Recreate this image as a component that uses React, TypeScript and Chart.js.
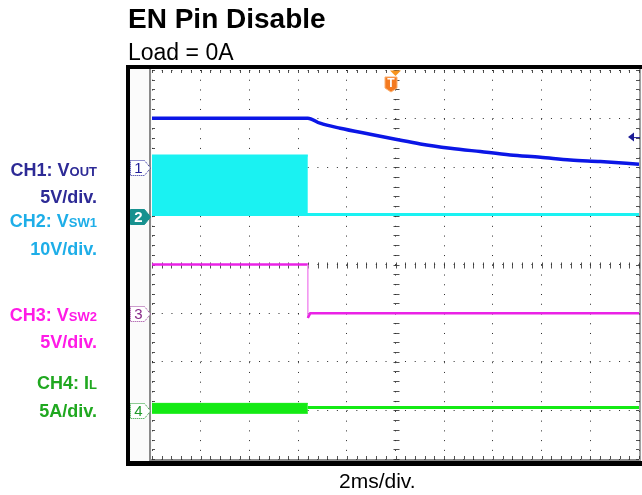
import React, { useEffect, useRef } from "react";
import { Chart, registerables } from "chart.js";

Chart.register(...registerables);

// ---- Axis definition (oscilloscope: 2 ms/div, 10 horizontal div, 8 vertical div) ----
const X_MIN_MS = -10;
const X_MAX_MS = 10;
const X_STEP_MS = 2;
const Y_MIN_DIV = 0;
const Y_MAX_DIV = 8;

// ---- Channel settings: ground-marker offset (div) and scale (units/div) ----
const CH_NAMES = ["1", "2", "3", "4"];
const CH_OFFSET_DIV = [6, 5, 3, 1];
const CH_SCALE = [5, 10, 5, 5];

// ---- Trigger ----
const TRIGGER_TIME_MS = 0;
const TRIGGER_LEVEL_V = 3.1; // on CH1

// ---- CH1: VOUT (V) ----
const CH1_TIME_MS = [-10, -3.6, -3.1, -2.27, -1.04, 0, 1.02, 2.25, 3.48, 4.71, 5.95, 7.18, 8.41, 10];
const CH1_VOUT_V = [5.05, 5.05, 4.53, 4.01, 3.39, 2.88, 2.4, 1.96, 1.61, 1.27, 1.03, 0.75, 0.58, 0.31];

// ---- CH2: VSW1 (V) ----
const CH2_BURST_TIME_MS = [-10, -3.6];
const CH2_BURST_HIGH_V = [12.4, 12.4];
const CH2_TIME_MS = [-10, -3.6, 10];
const CH2_VSW1_V = [0.3, 0.3, 0.3];

// ---- CH3: VSW2 (V) ----
const CH3_TIME_MS = [-10, -3.6, -3.6, -3.5, 10];
const CH3_VSW2_V = [5.0, 5.0, -0.5, 0.0, 0.0];

// ---- CH4: IL (A) ----
const CH4_BAND_TIME_MS = [-10, -3.6];
const CH4_BAND_HIGH_A = [0.72, 0.72];
const CH4_BAND_LOW_A = [-0.3, -0.3];
const CH4_TIME_MS = [-3.6, 10];
const CH4_IL_A = [0.3, 0.3];

const toPoints = (t: number[], v: number[], ch: number) =>
  t.map((x, i) => ({ x, y: CH_OFFSET_DIV[ch] + v[i] / CH_SCALE[ch] }));

const FONT = "'Liberation Sans', Arial, Helvetica, sans-serif";

function drawMarker(
  ctx: CanvasRenderingContext2D,
  xL: number,
  yC: number,
  label: string,
  fill: string,
  stroke: string,
  text: string,
  dotted: boolean
) {
  ctx.save();
  ctx.beginPath();
  ctx.moveTo(xL + 0.5, yC - 7.5);
  ctx.lineTo(xL + 14.5, yC - 7.5);
  ctx.lineTo(xL + 20.5, yC);
  ctx.lineTo(xL + 14.5, yC + 7.5);
  ctx.lineTo(xL + 0.5, yC + 7.5);
  ctx.closePath();
  ctx.fillStyle = fill;
  ctx.fill();
  ctx.setLineDash(dotted ? [1, 1] : []);
  ctx.strokeStyle = stroke;
  ctx.lineWidth = 1;
  ctx.stroke();
  ctx.setLineDash([]);
  ctx.fillStyle = text;
  ctx.font = `${dotted ? "" : "bold "}15px ${FONT}`;
  ctx.textAlign = "center";
  ctx.textBaseline = "middle";
  ctx.fillText(label, xL + 8.5, yC + 1);
  ctx.restore();
}

const scopePlugin = {
  id: "scopeFrame",
  beforeDraw(chart: any) {
    const { ctx, chartArea: a } = chart;
    const w = a.right - a.left;
    const h = a.bottom - a.top;
    ctx.save();
    ctx.fillStyle = "#ffffff";
    ctx.fillRect(0, 0, chart.width, chart.height);
    // black bezel
    ctx.fillStyle = "#000000";
    ctx.fillRect(a.left - 26, a.top - 5, w + 30, h + 12);
    // inner light frame
    ctx.fillStyle = "#fbfbfb";
    ctx.fillRect(a.left - 22, a.top - 1, w + 25, h + 3);
    // plot
    ctx.fillStyle = "#ffffff";
    ctx.fillRect(a.left, a.top, w, h);
    // gray edges
    ctx.fillStyle = "#8a8a8a";
    ctx.fillRect(a.left - 3, a.top - 1, 2, h + 3);
    ctx.fillRect(a.left - 3, a.bottom, w + 5, 2);
    ctx.fillStyle = "#a0a0a0";
    ctx.fillRect(a.right, a.top - 1, 2, h + 3);
    ctx.restore();
  },
  beforeDatasetsDraw(chart: any) {
    const { ctx, chartArea: a, scales } = chart;
    const xs = scales.x;
    const ys = scales.y;
    ctx.save();
    ctx.strokeStyle = "rgba(50,50,50,0.85)";
    ctx.lineWidth = 1;
    const cx = Math.round(xs.getPixelForValue(TRIGGER_TIME_MS)) + 0.5;
    const cy = Math.round(ys.getPixelForValue((Y_MIN_DIV + Y_MAX_DIV) / 2)) + 0.5;
    ctx.beginPath();
    const nx = ((X_MAX_MS - X_MIN_MS) / X_STEP_MS) * 5;
    for (let i = 0; i <= nx; i++) {
      const px = Math.round(xs.getPixelForValue(X_MIN_MS + (i * X_STEP_MS) / 5)) + 0.5;
      ctx.moveTo(px, a.top);
      ctx.lineTo(px, a.top + 3);
      ctx.moveTo(px, a.bottom - 3);
      ctx.lineTo(px, a.bottom);
      ctx.moveTo(px, cy - 3);
      ctx.lineTo(px, cy + 3);
    }
    const ny = (Y_MAX_DIV - Y_MIN_DIV) * 5;
    for (let i = 0; i <= ny; i++) {
      const py = Math.round(ys.getPixelForValue(Y_MIN_DIV + i / 5)) + 0.5;
      ctx.moveTo(a.left, py);
      ctx.lineTo(a.left + 3, py);
      ctx.moveTo(a.right - 3, py);
      ctx.lineTo(a.right, py);
      ctx.moveTo(cx - 3, py);
      ctx.lineTo(cx + 3, py);
    }
    ctx.stroke();
    ctx.restore();
  },
  afterDatasetsDraw(chart: any) {
    const { ctx, chartArea: a, scales } = chart;
    const xs = scales.x;
    const ys = scales.y;
    // channel ground markers
    const styles = [
      { fill: "#ffffff", stroke: "#22209a", text: "#22209a", dotted: true },
      { fill: "#17918f", stroke: "#17918f", text: "#ffffff", dotted: false },
      { fill: "#ffffff", stroke: "#9a3a9a", text: "#8a2a8a", dotted: true },
      { fill: "#ffffff", stroke: "#1f9a2a", text: "#1f9a2a", dotted: true },
    ];
    CH_NAMES.forEach((n, i) => {
      const y = Math.round(ys.getPixelForValue(CH_OFFSET_DIV[i])) + 1;
      const s = styles[i];
      drawMarker(ctx, a.left - 22, y, n, s.fill, s.stroke, s.text, s.dotted);
    });
    // trigger position marker (T)
    const tx = xs.getPixelForValue(TRIGGER_TIME_MS);
    ctx.save();
    ctx.fillStyle = "#f7941d";
    ctx.beginPath();
    ctx.moveTo(tx - 5.5, a.top + 0.5);
    ctx.lineTo(tx + 5.5, a.top + 0.5);
    ctx.lineTo(tx, a.top + 6);
    ctx.closePath();
    ctx.fill();
    const sx = tx - 10.5;
    const sy = a.top + 7;
    ctx.beginPath();
    ctx.moveTo(sx, sy);
    ctx.lineTo(sx + 12, sy);
    ctx.lineTo(sx + 12, sy + 11);
    ctx.lineTo(sx + 6, sy + 15);
    ctx.lineTo(sx, sy + 11);
    ctx.closePath();
    ctx.fillStyle = "#f47a20";
    ctx.fill();
    ctx.strokeStyle = "#fbb070";
    ctx.lineWidth = 1;
    ctx.stroke();
    ctx.fillStyle = "#ffffff";
    ctx.font = `bold 12px ${FONT}`;
    ctx.textAlign = "center";
    ctx.textBaseline = "middle";
    ctx.fillText("T", sx + 6, sy + 6.5);
    // trigger level arrow (CH1)
    const ly = ys.getPixelForValue(CH_OFFSET_DIV[0] + TRIGGER_LEVEL_V / CH_SCALE[0]);
    ctx.fillStyle = "#1c1c96";
    ctx.beginPath();
    ctx.moveTo(a.right - 11, ly);
    ctx.lineTo(a.right - 5, ly - 4.5);
    ctx.lineTo(a.right - 5, ly + 4.5);
    ctx.closePath();
    ctx.fill();
    ctx.strokeStyle = "#1c1c96";
    ctx.beginPath();
    ctx.moveTo(a.right - 6, ly + 0.5);
    ctx.lineTo(a.right + 1, ly + 0.5);
    ctx.stroke();
    ctx.restore();
  },
};

export default function App() {
  const ref = useRef<HTMLCanvasElement | null>(null);

  useEffect(() => {
    if (!ref.current) return;
    const gridColor = "rgba(30,30,30,0.95)";
    const chart = new Chart(ref.current, {
      type: "line",
      data: {
        datasets: [
          {
            label: "CH1 VOUT",
            data: toPoints(CH1_TIME_MS, CH1_VOUT_V, 0),
            borderColor: "#0b16e6",
            borderWidth: 3.5,
            pointRadius: 0,
            fill: false,
            cubicInterpolationMode: "monotone",
          },
          {
            label: "CH2 VSW1 burst",
            data: toPoints(CH2_BURST_TIME_MS, CH2_BURST_HIGH_V, 1),
            borderColor: "#1af2f2",
            backgroundColor: "#1af2f2",
            borderWidth: 2,
            pointRadius: 0,
            fill: { value: CH_OFFSET_DIV[1] + CH2_VSW1_V[0] / CH_SCALE[1] },
          },
          {
            label: "CH2 VSW1",
            data: toPoints(CH2_TIME_MS, CH2_VSW1_V, 1),
            borderColor: "#1af2f2",
            borderWidth: 3,
            pointRadius: 0,
            fill: false,
          },
          {
            label: "CH3 VSW2",
            data: toPoints(CH3_TIME_MS, CH3_VSW2_V, 2),
            borderColor: "#ea22e6",
            borderWidth: 2.5,
            pointRadius: 0,
            fill: false,
            segment: {
              borderColor: (c: any) => (c.p0DataIndex === 1 ? "#f290f0" : "#ea22e6"),
              borderWidth: (c: any) => (c.p0DataIndex === 1 ? 1.5 : 2.5),
            },
          },
          {
            label: "CH4 IL band high",
            data: toPoints(CH4_BAND_TIME_MS, CH4_BAND_HIGH_A, 3),
            borderColor: "#14ea14",
            backgroundColor: "#14ea14",
            borderWidth: 1,
            pointRadius: 0,
            fill: "+1",
          },
          {
            label: "CH4 IL band low",
            data: toPoints(CH4_BAND_TIME_MS, CH4_BAND_LOW_A, 3),
            borderColor: "#14ea14",
            borderWidth: 1,
            pointRadius: 0,
            fill: false,
          },
          {
            label: "CH4 IL",
            data: toPoints(CH4_TIME_MS, CH4_IL_A, 3),
            borderColor: "#14ea14",
            borderWidth: 3,
            pointRadius: 0,
            fill: false,
          },
        ],
      },
      options: {
        animation: false,
        responsive: false,
        maintainAspectRatio: false,
        parsing: false as any,
        layout: { padding: { left: 152, right: 3, top: 70, bottom: 36 } },
        plugins: {
          legend: { display: false },
          tooltip: { enabled: false },
        },
        elements: { line: { tension: 0 }, point: { radius: 0 } },
        scales: {
          x: {
            type: "linear",
            min: X_MIN_MS,
            max: X_MAX_MS,
            ticks: { display: false, stepSize: X_STEP_MS },
            grid: { color: gridColor, lineWidth: 1, drawTicks: false },
            border: { display: false, dash: [1, 8.74] },
          },
          y: {
            type: "linear",
            min: Y_MIN_DIV,
            max: Y_MAX_DIV,
            ticks: { display: false, stepSize: 1 },
            grid: { color: gridColor, lineWidth: 1, drawTicks: false },
            border: { display: false, dash: [1, 8.73] },
          },
        },
      },
      plugins: [scopePlugin],
    });
    return () => chart.destroy();
  }, []);

  const label = (top: number, color: string, main: string, sub?: string) => (
    <div
      style={{
        position: "absolute",
        left: 0,
        width: 97,
        top,
        textAlign: "right",
        fontSize: 18,
        lineHeight: "18px",
        fontWeight: "bold",
        color,
        whiteSpace: "nowrap",
      }}
    >
      {main}
      {sub ? <span style={{ fontSize: 13 }}>{sub}</span> : null}
    </div>
  );

  return (
    <div
      style={{
        position: "absolute",
        left: 0,
        top: 0,
        width: 642,
        height: 495,
        background: "#ffffff",
        fontFamily: FONT,
        overflow: "hidden",
      }}
    >
      <canvas
        ref={ref}
        width={642}
        height={495}
        style={{ position: "absolute", left: 0, top: 0, width: 642, height: 495 }}
      />
      <div
        style={{
          position: "absolute",
          left: 128,
          top: 5.3,
          fontSize: 28,
          lineHeight: "28px",
          fontWeight: "bold",
          color: "#000",
          whiteSpace: "nowrap",
        }}
      >
        EN Pin Disable
      </div>
      <div
        style={{
          position: "absolute",
          left: 128,
          top: 40.5,
          fontSize: 23,
          lineHeight: "23px",
          color: "#000",
          whiteSpace: "nowrap",
        }}
      >
        Load = 0A
      </div>
      {label(160.5, "#2d2a96", "CH1: V", "OUT")}
      {label(188.1, "#2d2a96", "5V/div.")}
      {label(211.5, "#1eaee8", "CH2: V", "SW1")}
      {label(239.8, "#1eaee8", "10V/div.")}
      {label(305.5, "#ff1ae6", "CH3: V", "SW2")}
      {label(333.1, "#ff1ae6", "5V/div.")}
      {label(374.1, "#20a820", "CH4: I", "L")}
      {label(401.5, "#20a820", "5A/div.")}
      <div
        style={{
          position: "absolute",
          left: 339,
          top: 470.2,
          fontSize: 21,
          lineHeight: "21px",
          color: "#000",
          whiteSpace: "nowrap",
        }}
      >
        2ms/div.
      </div>
    </div>
  );
}
